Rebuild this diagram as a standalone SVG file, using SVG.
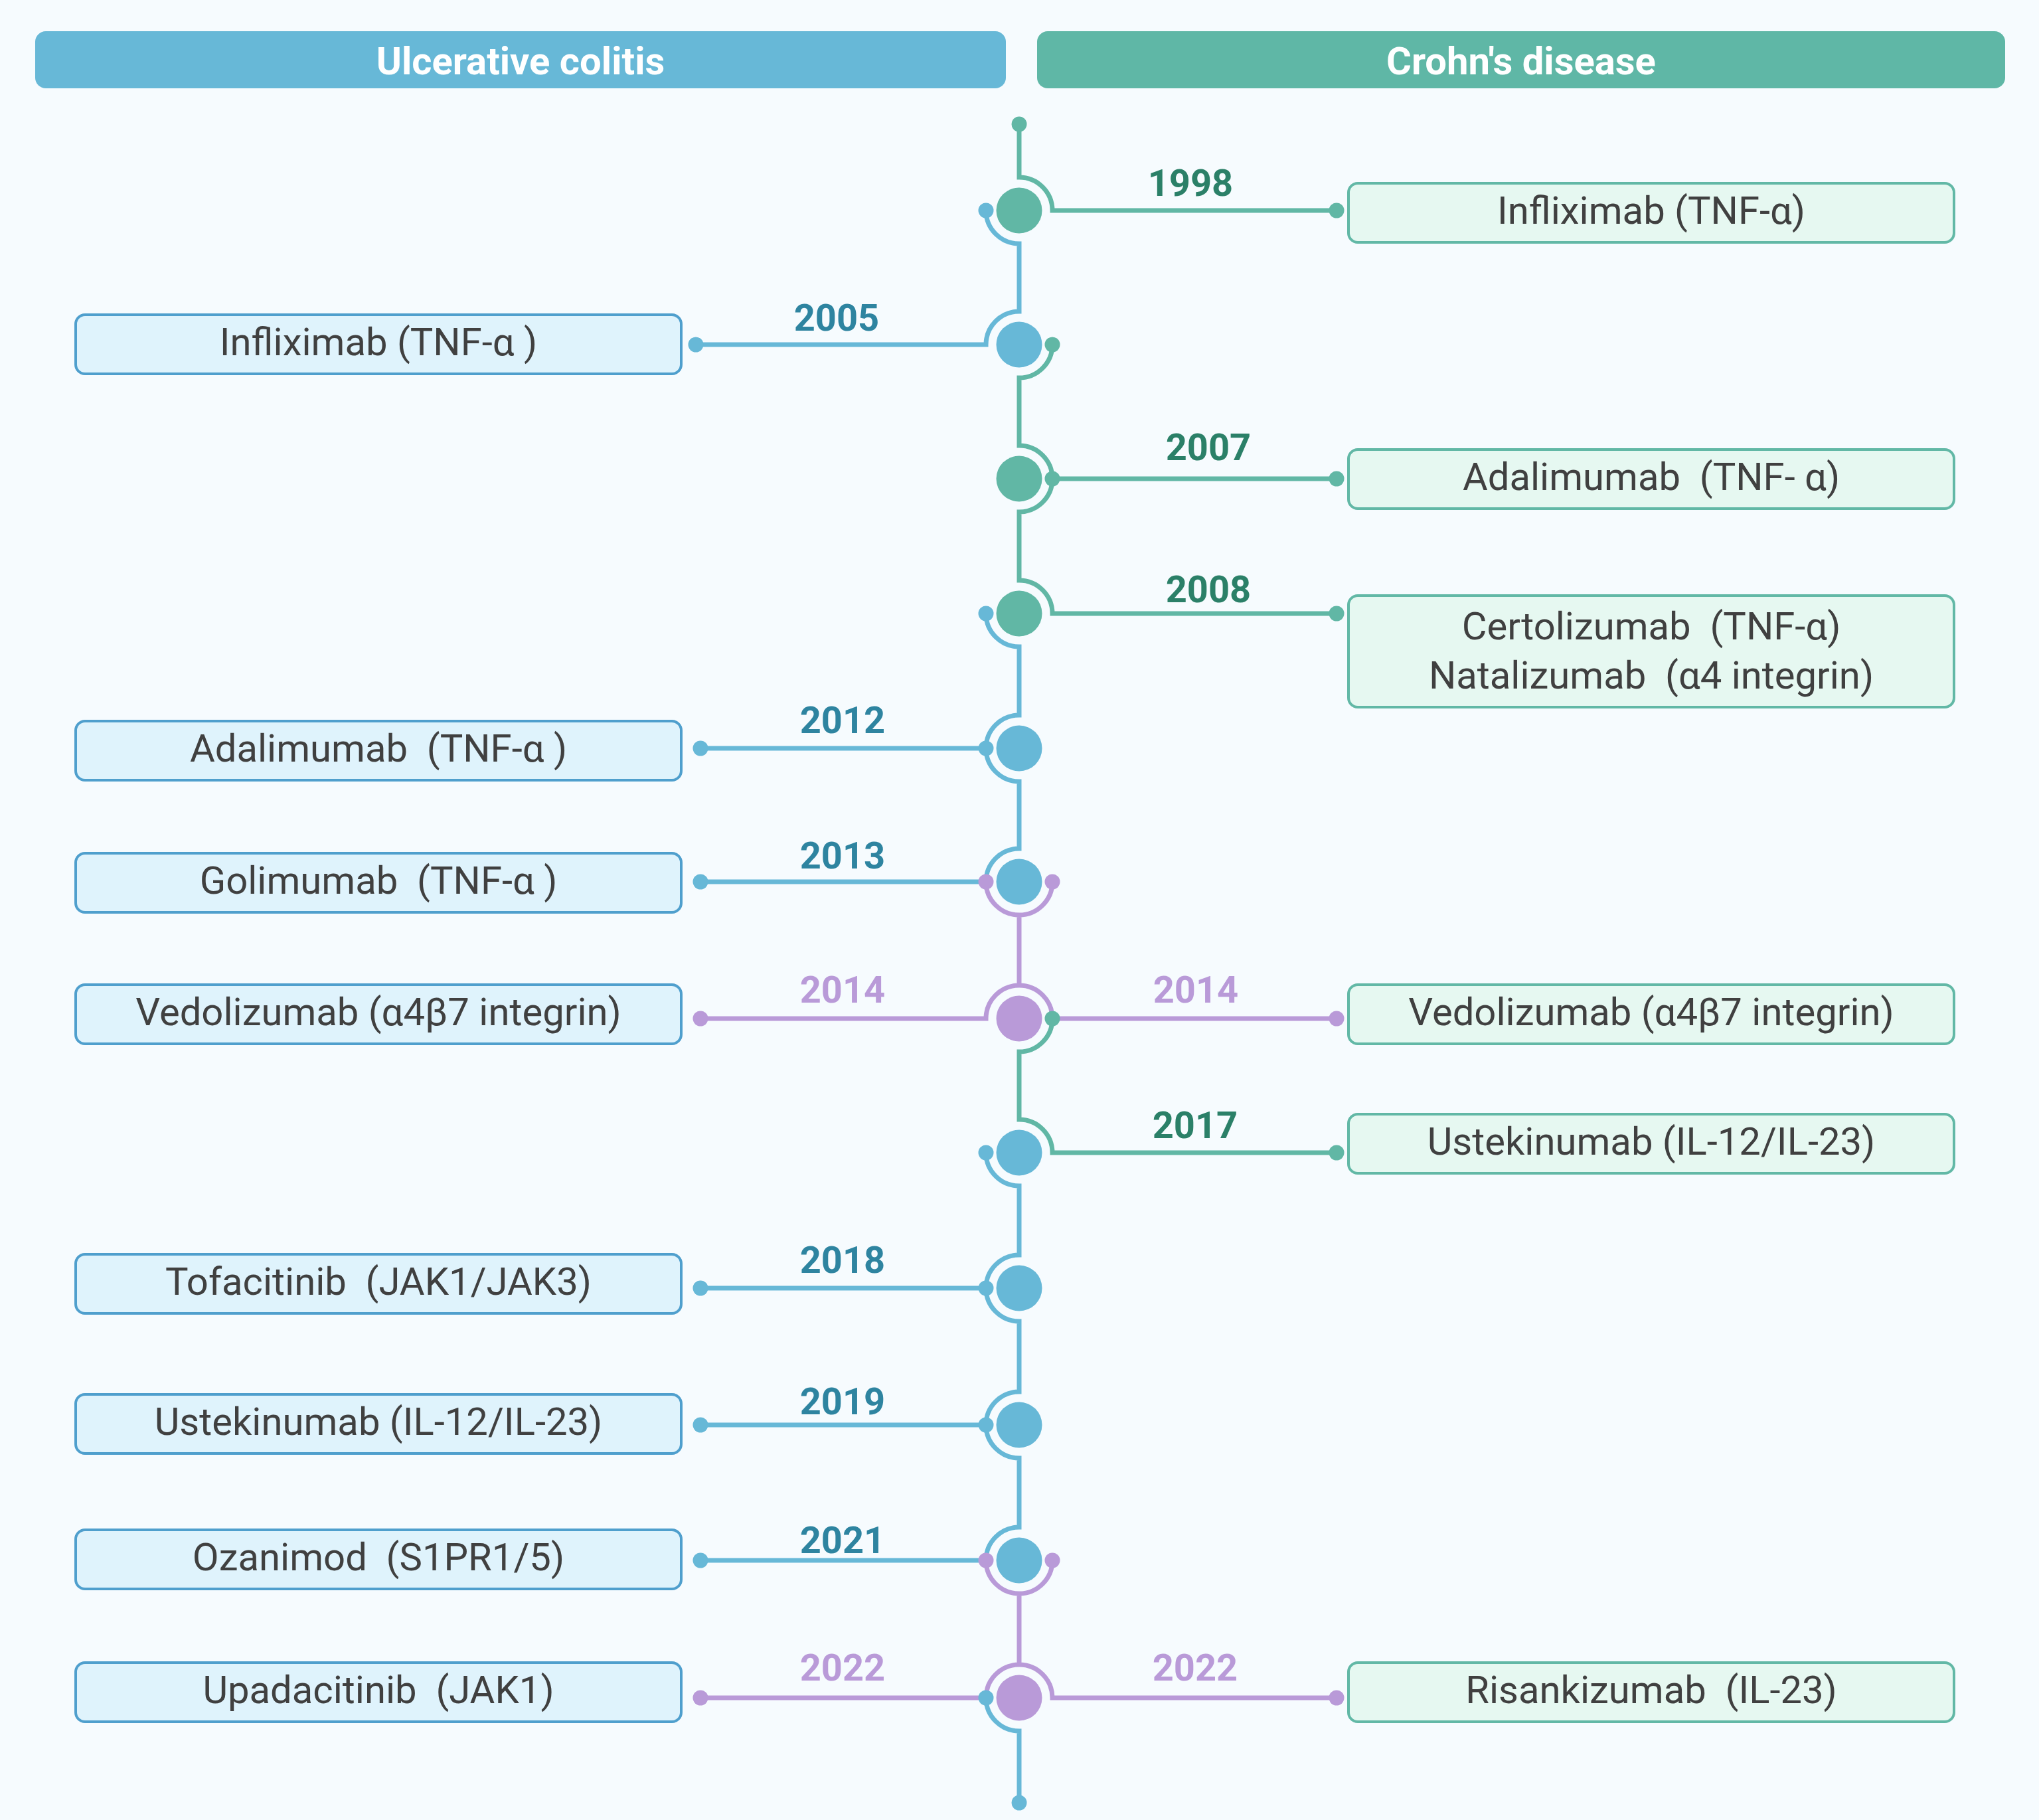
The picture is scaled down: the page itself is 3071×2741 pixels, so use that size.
<svg xmlns="http://www.w3.org/2000/svg" width="3071" height="2741" viewBox="0 0 3071 2741" xml:space="preserve">
<defs>
<style>
.bg{fill:#f6fbfe}
.hdr-t{font-family:Roboto,"Liberation Sans",sans-serif;font-weight:700;font-size:58px;fill:#ffffff;text-anchor:middle}
.ln{fill:none;stroke-width:7}
.bl{stroke:#67b8d7}
.gr{stroke:#61b7a5}
.pu{stroke:#b99ad8}
.dbl{fill:#67b8d7}
.dgr{fill:#61b7a5}
.dpu{fill:#b99ad8}
.yr{font-family:Roboto,"Liberation Sans",sans-serif;font-weight:700;font-size:56px;text-anchor:middle}
.ygr{fill:#2b8068}
.ybl{fill:#2e84a0}
.ypu{fill:#b99ad8}
.boxL{fill:#dff3fc;stroke:#4f9fcd;stroke-width:4}
.boxR{fill:#e6f8f1;stroke:#62b8a6;stroke-width:4}
.bt{font-family:Roboto,"Liberation Sans",sans-serif;font-size:58px;fill:#404040;text-anchor:middle;white-space:pre}
</style>
</defs>
<rect class="bg" x="0" y="0" width="3071" height="2741"/>

<g id="header-uc">
<rect x="53" y="47" width="1462" height="86" rx="16" fill="#67b8d7"/>
<text class="hdr-t" x="784" y="112">Ulcerative colitis</text>
</g>
<g id="header-cd">
<rect x="1562" y="47" width="1458" height="86" rx="16" fill="#5fb7a6"/>
<text class="hdr-t" x="2291" y="112">Crohn's disease</text>
</g>

<g id="connectors">
<path class="ln gr" d="M1535,187 V267 A50,50 0 0 1 1585,317 H2013"/>
<path class="ln bl" d="M1485,317 A50,50 0 0 0 1535,367 V469 A50,50 0 0 0 1485,519 H1048"/>
<path class="ln gr" d="M1585,519 A50,50 0 0 1 1535,569 V671 A50,50 0 0 1 1585,721 H2013"/>
<path class="ln gr" d="M1585,721 A50,50 0 0 1 1535,771 V874 A50,50 0 0 1 1585,924 H2013"/>
<path class="ln bl" d="M1485,924 A50,50 0 0 0 1535,974 V1077 A50,50 0 0 0 1485,1127 H1055"/>
<path class="ln bl" d="M1485,1127 A50,50 0 0 0 1535,1177 V1278 A50,50 0 0 0 1485,1328 H1055"/>
<path class="ln pu" d="M1485,1328 A50,50 0 0 0 1585,1328 M1535,1378 V1484 M1055,1534 H1485 A50,50 0 0 1 1585,1534 H2013"/>
<path class="ln gr" d="M1585,1534 A50,50 0 0 1 1535,1584 V1686 A50,50 0 0 1 1585,1736 H2013"/>
<path class="ln bl" d="M1485,1736 A50,50 0 0 0 1535,1786 V1890 A50,50 0 0 0 1485,1940 H1055"/>
<path class="ln bl" d="M1485,1940 A50,50 0 0 0 1535,1990 V2096 A50,50 0 0 0 1485,2146 H1055"/>
<path class="ln bl" d="M1485,2146 A50,50 0 0 0 1535,2196 V2300 A50,50 0 0 0 1485,2350 H1055"/>
<path class="ln pu" d="M1485,2350 A50,50 0 0 0 1585,2350 M1535,2400 V2507 M1055,2557 H1485 A50,50 0 0 1 1585,2557 H2013"/>
<path class="ln bl" d="M1485,2557 A50,50 0 0 0 1535,2607 V2715"/>

<circle class="dgr" cx="1535" cy="187" r="11.5"/>
<circle class="dbl" cx="1485" cy="317" r="11.5"/>
<circle class="dgr" cx="2013" cy="317" r="11.5"/>
<circle class="dgr" cx="1585" cy="519" r="11.5"/>
<circle class="dbl" cx="1048" cy="519" r="11.5"/>
<circle class="dgr" cx="1585" cy="721" r="11.5"/>
<circle class="dgr" cx="2013" cy="721" r="11.5"/>
<circle class="dbl" cx="1485" cy="924" r="11.5"/>
<circle class="dgr" cx="2013" cy="924" r="11.5"/>
<circle class="dbl" cx="1485" cy="1127" r="11.5"/>
<circle class="dbl" cx="1055" cy="1127" r="11.5"/>
<circle class="dpu" cx="1485" cy="1328" r="11.5"/>
<circle class="dpu" cx="1585" cy="1328" r="11.5"/>
<circle class="dbl" cx="1055" cy="1328" r="11.5"/>
<circle class="dgr" cx="1585" cy="1534" r="11.5"/>
<circle class="dpu" cx="1055" cy="1534" r="11.5"/>
<circle class="dpu" cx="2013" cy="1534" r="11.5"/>
<circle class="dbl" cx="1485" cy="1736" r="11.5"/>
<circle class="dgr" cx="2013" cy="1736" r="11.5"/>
<circle class="dbl" cx="1485" cy="1940" r="11.5"/>
<circle class="dbl" cx="1055" cy="1940" r="11.5"/>
<circle class="dbl" cx="1485" cy="2146" r="11.5"/>
<circle class="dbl" cx="1055" cy="2146" r="11.5"/>
<circle class="dpu" cx="1485" cy="2350" r="11.5"/>
<circle class="dpu" cx="1585" cy="2350" r="11.5"/>
<circle class="dbl" cx="1055" cy="2350" r="11.5"/>
<circle class="dbl" cx="1485" cy="2557" r="11.5"/>
<circle class="dpu" cx="1055" cy="2557" r="11.5"/>
<circle class="dpu" cx="2013" cy="2557" r="11.5"/>
<circle class="dbl" cx="1535" cy="2715" r="11.5"/>

<text class="yr ygr" x="1793" y="295">1998</text>
<text class="yr ybl" x="1260" y="498">2005</text>
<text class="yr ygr" x="1820" y="693">2007</text>
<text class="yr ygr" x="1820" y="907">2008</text>
<text class="yr ybl" x="1269" y="1104">2012</text>
<text class="yr ybl" x="1269" y="1308">2013</text>
<text class="yr ypu" x="1269" y="1510">2014</text>
<text class="yr ypu" x="1801" y="1510">2014</text>
<text class="yr ygr" x="1800" y="1714">2017</text>
<text class="yr ybl" x="1269" y="1917">2018</text>
<text class="yr ybl" x="1269" y="2130">2019</text>
<text class="yr ybl" x="1269" y="2339">2021</text>
<text class="yr ypu" x="1269" y="2531">2022</text>
<text class="yr ypu" x="1800" y="2531">2022</text>
</g>

<g id="timeline-nodes">
<g id="t1998"><circle class="dgr" cx="1535" cy="317" r="34.5"/></g>
<g id="t2005"><circle class="dbl" cx="1535" cy="519" r="34.5"/></g>
<g id="t2007"><circle class="dgr" cx="1535" cy="721" r="34.5"/></g>
<g id="t2008"><circle class="dgr" cx="1535" cy="924" r="34.5"/></g>
<g id="t2012"><circle class="dbl" cx="1535" cy="1127" r="34.5"/></g>
<g id="t2013"><circle class="dbl" cx="1535" cy="1328" r="34.5"/></g>
<g id="t2014"><circle class="dpu" cx="1535" cy="1534" r="34.5"/></g>
<g id="t2017"><circle class="dbl" cx="1535" cy="1736" r="34.5"/></g>
<g id="t2018"><circle class="dbl" cx="1535" cy="1940" r="34.5"/></g>
<g id="t2019"><circle class="dbl" cx="1535" cy="2146" r="34.5"/></g>
<g id="t2021"><circle class="dbl" cx="1535" cy="2350" r="34.5"/></g>
<g id="t2022"><circle class="dpu" cx="1535" cy="2557" r="34.5"/></g>
</g>

<g id="cd-boxes">
<g id="cd-1998"><rect class="boxR" x="2031" y="276" width="912" height="89" rx="14"/><text class="bt" x="2487" y="337">Infliximab (TNF-α)</text></g>
<g id="cd-2007"><rect class="boxR" x="2031" y="677" width="912" height="89" rx="14"/><text class="bt" x="2487" y="738">Adalimumab  (TNF- α)</text></g>
<g id="cd-2008"><rect class="boxR" x="2031" y="897" width="912" height="168" rx="14"/><text class="bt" x="2487" y="963">Certolizumab  (TNF-α)</text><text class="bt" x="2487" y="1037">Natalizumab  (α4 integrin)</text></g>
<g id="cd-2014"><rect class="boxR" x="2031" y="1483" width="912" height="89" rx="14"/><text class="bt" x="2487" y="1544">Vedolizumab (α4β7 integrin)</text></g>
<g id="cd-2017"><rect class="boxR" x="2031" y="1678" width="912" height="89" rx="14"/><text class="bt" x="2487" y="1739">Ustekinumab (IL-12/IL-23)</text></g>
<g id="cd-2022"><rect class="boxR" x="2031" y="2504" width="912" height="89" rx="14"/><text class="bt" x="2487" y="2565">Risankizumab  (IL-23)</text></g>
</g>

<g id="uc-boxes">
<g id="uc-2005"><rect class="boxL" x="114" y="474" width="912" height="89" rx="14"/><text class="bt" x="570" y="535">Infliximab (TNF-α )</text></g>
<g id="uc-2012"><rect class="boxL" x="114" y="1086" width="912" height="89" rx="14"/><text class="bt" x="570" y="1147">Adalimumab  (TNF-α )</text></g>
<g id="uc-2013"><rect class="boxL" x="114" y="1285" width="912" height="89" rx="14"/><text class="bt" x="570" y="1346">Golimumab  (TNF-α )</text></g>
<g id="uc-2014"><rect class="boxL" x="114" y="1483" width="912" height="89" rx="14"/><text class="bt" x="570" y="1544">Vedolizumab (α4β7 integrin)</text></g>
<g id="uc-2018"><rect class="boxL" x="114" y="1889" width="912" height="89" rx="14"/><text class="bt" x="570" y="1950">Tofacitinib  (JAK1/JAK3)</text></g>
<g id="uc-2019"><rect class="boxL" x="114" y="2100" width="912" height="89" rx="14"/><text class="bt" x="570" y="2161">Ustekinumab (IL-12/IL-23)</text></g>
<g id="uc-2021"><rect class="boxL" x="114" y="2304" width="912" height="89" rx="14"/><text class="bt" x="570" y="2365">Ozanimod  (S1PR1/5)</text></g>
<g id="uc-2022"><rect class="boxL" x="114" y="2504" width="912" height="89" rx="14"/><text class="bt" x="570" y="2565">Upadacitinib  (JAK1)</text></g>
</g>
</svg>
